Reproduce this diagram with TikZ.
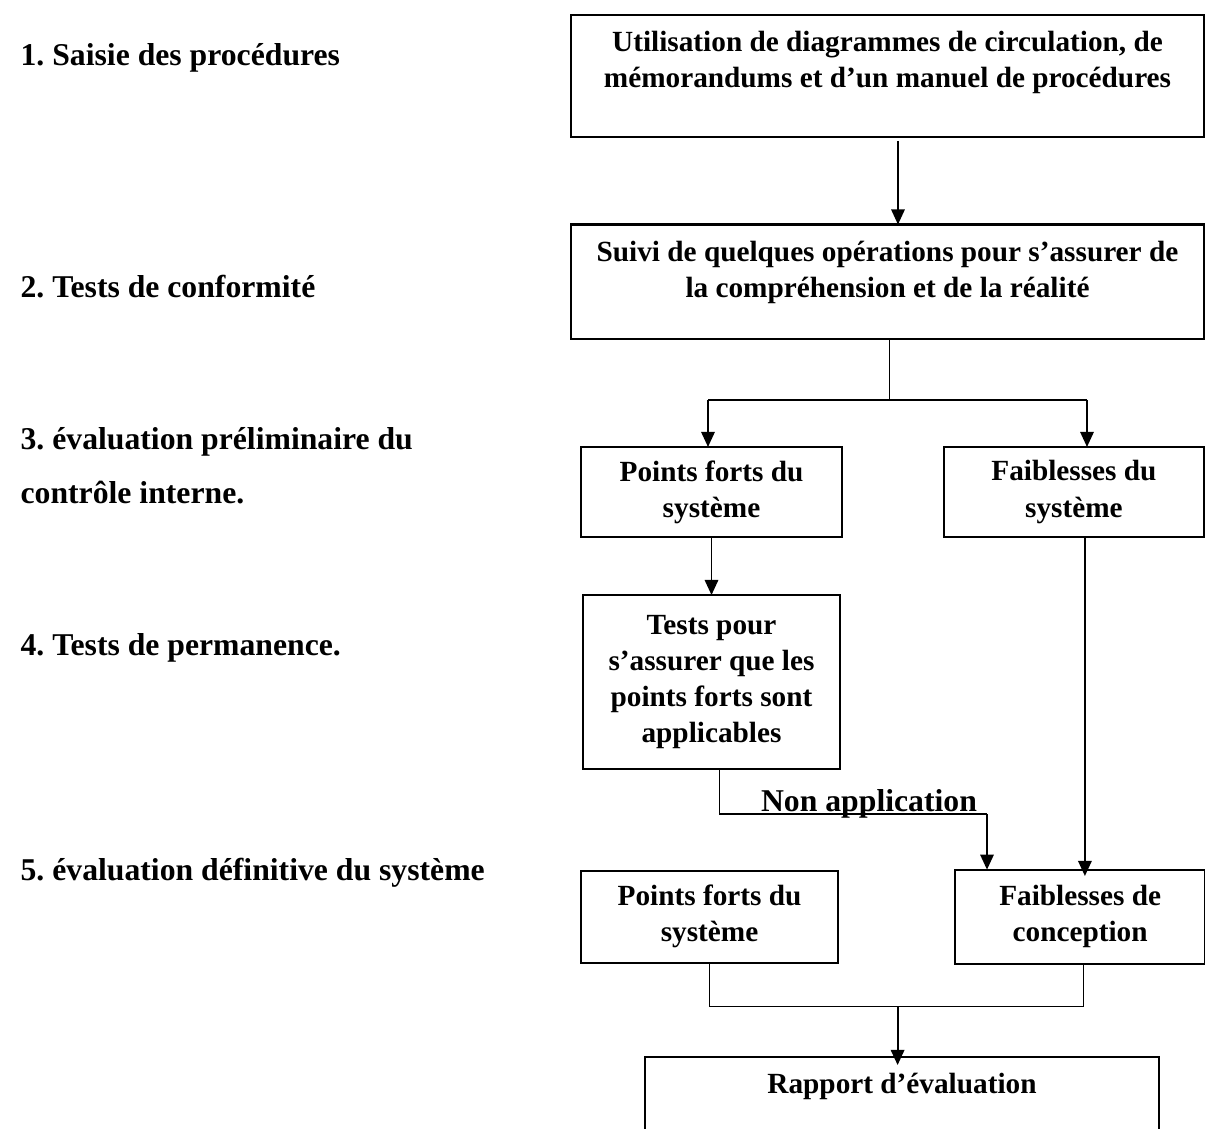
\documentclass[tikz,border=0pt]{standalone}
\usepackage{fontspec}
\setmainfont{Liberation Serif}
\frenchspacing
\usetikzlibrary{arrows.meta, positioning}

\begin{document}
\begin{tikzpicture}[x=0.41pt, y=-0.41pt]
      \tikzstyle{box} = [rectangle, draw=black, line width=0.85pt, inner sep=2pt, outer sep=0pt, align=center, font=\bfseries\fontsize{12}{14.8}\selectfont]
      \tikzstyle{stage} = [anchor=base west, align=left, font=\bfseries\fontsize{13}{22.5}\selectfont]
      \tikzstyle{connect} = [-{Triangle[length=6.2pt, width=5.5pt]}, line width=0.8pt]
      \tikzstyle{link} = [line width=0.8pt]
      \tikzstyle{thinline} = [line width=0.45pt]
      \useasboundingbox (0,0) rectangle (1205,1129);
      % étapes
      \node[stage] (s1) at (12,66) {1. Saisie des procédures};
      \node[stage] (s2) at (12,297.5) {2. Tests de conformité};
      \node[stage] (s3) at (12,504) {3. évaluation préliminaire du\\contrôle interne.};
      \node[stage] (s4) at (12,655.7) {4. Tests de permanence.};
      \node[stage] (s5) at (12,881) {5. évaluation définitive du système};
      % boîtes
      \node[box, minimum width=259.5pt, minimum height=50pt] (util) at (887.5,76) {Utilisation de diagrammes de circulation, de\\mémorandums et d’un manuel de procédures\rule[-14pt]{0pt}{0pt}};
      \node[box, minimum width=259.5pt, minimum height=46.9pt, below=35.9pt of util] (suivi) {Suivi de quelques opérations pour s’assurer de\\la compréhension et de la réalité\rule[-10.4pt]{0pt}{0pt}};
      \node[box, minimum width=107pt, minimum height=36.9pt] (fort) at (711.5,492) {Points forts du\\système};
      \node[box, minimum width=106.6pt, minimum height=36.9pt, right=41.8pt of fort] (faible) {Faiblesses du\\système};
      \node[box, minimum width=105.4pt, minimum height=71.3pt, below=23.8pt of fort] (tests) {Tests pour\\s’assurer que les\\points forts sont\\applicables};
      \node[box, minimum width=105.4pt, minimum height=37.7pt, below=41.7pt of tests, xshift=-0.8pt] (fort2) {Points forts du\\système};
      \node[box, minimum width=102.5pt, minimum height=38.5pt, right=48pt of fort2] (concep) {Faiblesses de\\conception};
      \node[box, minimum width=210.7pt, minimum height=61.5pt, anchor=north] (rapport) at (902,1057) {Rapport d’évaluation\rule[-40pt]{0pt}{0pt}};
      % liaisons
      \coordinate (split) at (889.5,400);
      \coordinate (sl) at (708,400);
      \coordinate (sr) at (1087,400);
      \coordinate (na) at (987,814);
      \coordinate (merge) at (897.6,1006.5);
      \coordinate (ua) at ([xshift=4.3pt]util.south);
      \coordinate (fa) at ([xshift=4.5pt]faible.south);
      \coordinate (ca) at ([xshift=1.2pt]concep.south);
      \draw[connect, shorten <=1.6pt] (ua) -- (ua |- suivi.north);
      \draw[link] (split |- suivi.south) -- (split);
      \draw[thinline] (sl) -- (sr);
      \draw[connect] (sl) -- (sl |- fort.north);
      \draw[connect] (sr) -- (sr |- faible.north);
      \draw[connect] (fort.south) -- (tests.north);
      \draw[thinline] ([xshift=3.1pt]tests.south) |- (na);
      \draw[connect] (na) -- (na |- concep.north);
      \node[font=\bfseries\fontsize{13}{15}\selectfont, anchor=base] (nonapp) at (869,811.5) {Non application};
      \draw[connect, shorten >=-2.6pt] (fa) -- (fa |- concep.north);
      \draw[thinline] (fort2.south) |- (merge) -| (ca);
      \draw[connect, shorten >=-3.3pt] (merge) -- (merge |- rapport.north);
    \end{tikzpicture}
\end{document}
